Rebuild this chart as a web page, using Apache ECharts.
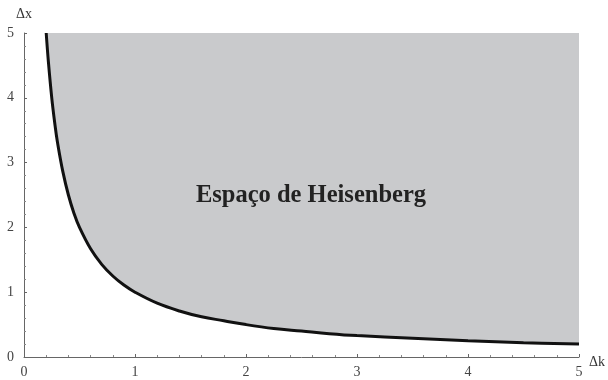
<!DOCTYPE html>
<html><head><meta charset="utf-8">
<script src="https://cdn.jsdelivr.net/npm/echarts@6/dist/echarts.min.js"></script>
<style>html,body{margin:0;padding:0;background:#fff}#c{width:608px;height:380px}</style>
</head><body><div id="c"></div>
<script>
// Values (curve Δx vs Δk)
const dk = [0.2,0.22,0.25,0.28,0.3,0.35,0.4,0.45,0.5,0.6,0.7,0.8,0.9,1,1.2,1.4,1.6,1.8,2,2.25,2.5,2.75,3,3.5,4,4.5,5];
const dx = [5,4.55,4,3.57,3.33,2.86,2.5,2.22,2,1.67,1.43,1.25,1.11,1,0.83,0.71,0.62,0.56,0.5,0.44,0.4,0.36,0.33,0.29,0.25,0.22,0.2];
const xTicks = ['0','1','2','3','4','5'];
const yTicks = ['0','1','2','3','4','5'];
const regionLabel = 'Espaço de Heisenberg';

const chart = echarts.init(document.getElementById('c'));
const serif = 'Liberation Serif';
const axisCommon = {
  min: 0, max: 5, interval: 1,
  axisLine: {show: true, onZero: false, lineStyle: {color: '#666', width: 1}},
  axisTick: {show: true, inside: true, length: 3, lineStyle: {color: '#666'}},
  minorTick: {show: true, splitNumber: 5, length: 2, lineStyle: {color: '#888'}},
  splitLine: {show: false},
  axisLabel: {fontFamily: serif, fontSize: 14, color: '#444'}
};
chart.setOption({
  animation: false,
  grid: {left: 24, right: 28, top: 33, bottom: 23},
  xAxis: Object.assign({type: 'value', name: 'Δk', nameLocation: 'end', nameGap: 10,
    nameTextStyle: {fontFamily: serif, fontSize: 14, color: '#333', verticalAlign: 'top', padding: [-2, 0, 0, 0]}}, axisCommon,
    {axisLabel: Object.assign({}, axisCommon.axisLabel, {margin: 8, formatter: v => xTicks[Math.round(v)]})}),
  yAxis: Object.assign({type: 'value', name: 'Δx', nameLocation: 'end', nameGap: 12,
    nameTextStyle: {fontFamily: serif, fontSize: 14, color: '#333', align: 'center'}}, axisCommon,
    {axisLabel: Object.assign({}, axisCommon.axisLabel, {margin: 10, formatter: v => yTicks[Math.round(v)]})}),
  series: [{
    type: 'line',
    data: dk.map((k, i) => [k, dx[i]]),
    smooth: 0.4,
    symbol: 'none',
    lineStyle: {color: '#111', width: 3},
    areaStyle: {origin: 'end', color: '#c9cacc', opacity: 1}
  }],
  graphic: {elements: [{
    type: 'text', x: 311, y: 196, z: 100,
    style: {text: regionLabel, fontFamily: serif, fontSize: 24.5, fontWeight: 'bold', fill: '#222',
      align: 'center', verticalAlign: 'middle'}
  }]}
});
</script></body></html>
